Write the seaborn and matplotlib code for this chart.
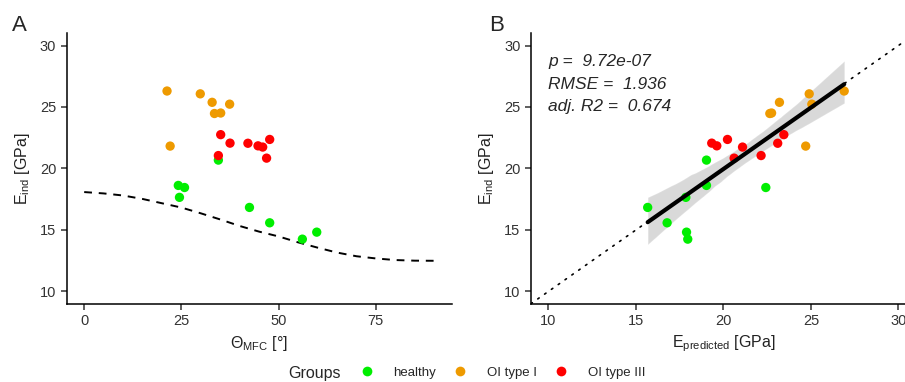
import numpy as np
import pandas as pd
import matplotlib
matplotlib.use("Agg")
import matplotlib.pyplot as plt
from matplotlib.lines import Line2D
import seaborn as sns

# per-sample values
groups = ["healthy"] * 8 + ["OI type I"] * 7 + ["OI type III"] * 8
theta_mfc = [34.5, 24.2, 25.8, 24.5, 42.5, 47.7, 56.1, 59.8,
             21.3, 22.1, 29.85, 32.9, 37.4, 33.5, 35.1,
             35.1, 37.5, 42.1, 44.7, 45.9, 47.7, 46.9, 34.5]
e_ind = [20.68, 18.62, 18.45, 17.65, 16.83, 15.58, 14.25, 14.82,
         26.3, 21.82, 26.07, 25.38, 25.23, 24.47, 24.51,
         22.75, 22.06, 22.05, 21.84, 21.74, 22.36, 20.84, 21.05]
e_pred = [19.03, 19.03, 22.42, 17.85, 15.67, 16.78, 17.96, 17.89,
          26.9, 24.7, 24.9, 23.2, 25.05, 22.65, 22.75,
          23.45, 19.33, 23.1, 19.62, 21.09, 20.23, 20.61, 22.15]

# model curve (dashed)
curve_theta = [0, 5, 10, 15, 20, 25, 30, 35, 40, 45, 50, 55, 60, 65, 70, 75, 80, 85, 90]
curve_e = [18.08, 17.97, 17.80, 17.52, 17.17, 16.82, 16.35, 15.85, 15.32, 14.86,
           14.47, 13.99, 13.56, 13.16, 12.86, 12.68, 12.55, 12.50, 12.49]

stats_text = "p =  9.72e-07\nRMSE =  1.936\nadj. R2 =  0.674"

palette = {"healthy": "#00EE00", "OI type I": "#EE9A00", "OI type III": "#FF0000"}

df = pd.DataFrame({"group": groups, "theta": theta_mfc, "e_ind": e_ind, "e_pred": e_pred})
curve = pd.DataFrame({"theta": curve_theta, "e": curve_e})

sns.set_style("ticks")
plt.rcParams["font.family"] = ["Liberation Sans", "DejaVu Sans"]
plt.rcParams["mathtext.fontset"] = "custom"
plt.rcParams["mathtext.rm"] = "Liberation Sans"
plt.rcParams["mathtext.it"] = "Liberation Sans:italic"

fig = plt.figure(figsize=(9.05, 3.82), dpi=100)
axA = fig.add_axes([0.0737, 0.205, 0.4254, 0.708])
axB = fig.add_axes([0.5867, 0.205, 0.4254, 0.708])

# panel A
sns.lineplot(data=curve, x="theta", y="e", ax=axA, color="black", lw=1.4,
             linestyle=(0, (4, 3.5)))
sns.scatterplot(data=df, x="theta", y="e_ind", hue="group", palette=palette, ax=axA,
                s=45, linewidth=0, legend=False, zorder=3)
axA.set_xlim(-4.5, 94.5)
axA.set_ylim(9, 31)
axA.set_xticks([0, 25, 50, 75])
axA.set_xlabel("Θ$_{\\mathrm{MFC}}$ [°]", fontsize=11.5, color="#222222")

# panel B
axB.plot([9, 31], [9, 31], color="black", lw=1.2, linestyle=(0, (1, 4)),
         dash_capstyle="round")
sns.regplot(data=df, x="e_pred", y="e_ind", ax=axB, scatter=False, color="black",
            ci=95, seed=3, line_kws=dict(lw=3, zorder=4))
sns.scatterplot(data=df, x="e_pred", y="e_ind", hue="group", palette=palette, ax=axB,
                s=45, linewidth=0, legend=False, zorder=3)
axB.set_xlim(9, 31)
axB.set_ylim(9, 31)
axB.set_xticks([10, 15, 20, 25, 30])
axB.set_xlabel("E$_{\\mathrm{predicted}}$ [GPa]", fontsize=11.5, color="#222222")
axB.text(10.0, 29.3, stats_text, fontsize=12.5, style="italic", va="top", ha="left",
         linespacing=1.62)

for ax in (axA, axB):
    sns.despine(ax=ax)
    ax.set_yticks([10, 15, 20, 25, 30])
    ax.set_ylabel("E$_{\\mathrm{ind}}$ [GPa]", fontsize=11.5, color="#222222", labelpad=6)
    ax.tick_params(labelsize=10.5, labelcolor="#333333", color="#333333",
                   length=4, width=1.1)
    for sp in ("left", "bottom"):
        ax.spines[sp].set_linewidth(1.1)
        ax.spines[sp].set_color("black")

fig.text(0.013, 0.962, "A", fontsize=16, va="top")
fig.text(0.541, 0.962, "B", fontsize=16, va="top")

# legend at bottom
handles = [Line2D([], [], marker="o", ls="", color=palette[g], markersize=7,
                  markeredgewidth=0) for g in palette]
fig.text(0.318, 0.021, "Groups", fontsize=11.5, va="center")
fig.legend(handles, list(palette), loc="center left", bbox_to_anchor=(0.385, 0.024),
           ncol=3, frameon=False, fontsize=9.5, handletextpad=1.5, columnspacing=1.35,
           handlelength=1.0)

fig.savefig("out.png", dpi=100)
